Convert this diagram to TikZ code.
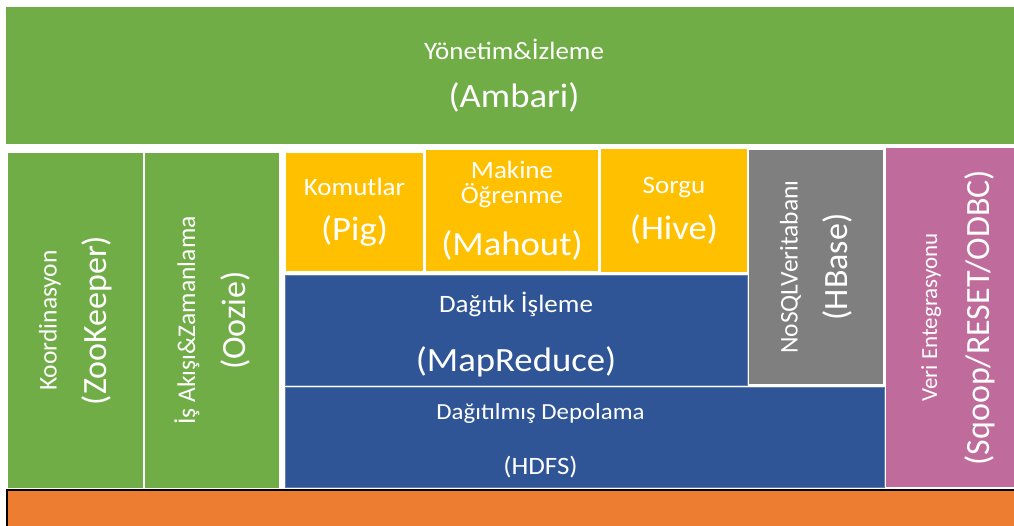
\documentclass[tikz,border=0pt]{standalone}
\usepackage{fontspec}
\setmainfont{Carlito}
\newfontfamily\widefont{Carlito}[FakeStretch=1.08]
\usetikzlibrary{positioning}

\definecolor{hgreen}{HTML}{70AD47}
\definecolor{hyellow}{HTML}{FFC000}
\definecolor{hblue}{HTML}{2F5597}
\definecolor{hgray}{HTML}{7F7F7F}
\definecolor{hpink}{HTML}{BF6B9B}
\definecolor{horange}{HTML}{ED7D31}

\newcommand{\toolname}[1]{{\fontsize{34}{34}\selectfont #1}}

\begin{document}
\begin{tikzpicture}[
  x=1pt, y=-1pt,
  layer/.style={rectangle, inner sep=0pt, text=white, align=center},
  hlayer/.style={layer, font=\widefont\fontsize{25}{#1}\selectfont},
  vlayer/.style={layer, rotate=90, font=\fontsize{25.5}{#1}\selectfont},
  bluebox/.style={fill=hblue, draw=hblue!75!white, line width=0.8pt}
]

\useasboundingbox (0,0) rectangle (1014,525);
\fill[white] (0,0) rectangle (1014,525);

% Management on top
\node[hlayer=48, fill=hgreen, minimum width=1016pt, minimum height=137pt] (ambari) at (514,75.5)
  {Yönetim\&İzleme\\\toolname{(Ambari)}};

% Side columns
\node[vlayer=50, fill=hgreen, minimum width=335pt, minimum height=135pt] (zookeeper) at (75.5,320.5)
  {Koordinasyon\\\toolname{(ZooKeeper)}};
\node[vlayer=50, fill=hgreen, minimum width=335pt, minimum height=134pt] (oozie) at (212,320.5)
  {İş Akışı\&Zamanlama\\\toolname{(Oozie)}};

% Tools
\node[hlayer=45, fill=hyellow, minimum width=137pt, minimum height=118pt] (pig) at (354.5,212)
  {Komutlar\\\toolname{(Pig)}};
\node[hlayer=25, fill=hyellow, minimum width=172pt, minimum height=121pt] (mahout) at (512,210.5)
  {Makine\\Öğrenme\\[22pt]\toolname{(Mahout)}};
\node[hlayer=46, fill=hyellow, minimum width=146pt, minimum height=123pt] (hive) at (674,210.5)
  {Sorgu\\\toolname{(Hive)}};

% Processing and storage
\node[hlayer=59, bluebox, minimum width=462pt, minimum height=110pt] (mapreduce) at (516,330)
  {\rule{0pt}{30pt}Dağıtık İşleme\\\toolname{(MapReduce)}};
\node[vlayer=50, fill=hgray, minimum width=234pt, minimum height=134pt] (hbase) at (816,267)
  {NoSQLVeritabanı\\\toolname{(HBase)}};
\node[layer, bluebox, minimum width=599pt, minimum height=100pt] (hdfs) at (584.5,437) {};
\node[hlayer=55, xshift=-44pt, yshift=-4pt] (hdfstext) at (hdfs)
  {{\fontsize{23}{23}\selectfont Dağıtılmış Depolama}\\(HDFS)};

% Data integration
\node[vlayer=52, fill=hpink, minimum width=339pt, minimum height=144pt] (sqoop) at (958,317.5)
  {{\fontsize{23}{23}\selectfont Veri Entegrasyonu}\\\toolname{(Sqoop/RESET/ODBC)}};

% Base bar
\node[layer, draw=black, line width=2pt, fill=horange, minimum width=1040pt, minimum height=70pt,
      anchor=north west] (base) at (6,489) {};

\end{tikzpicture}
\end{document}
